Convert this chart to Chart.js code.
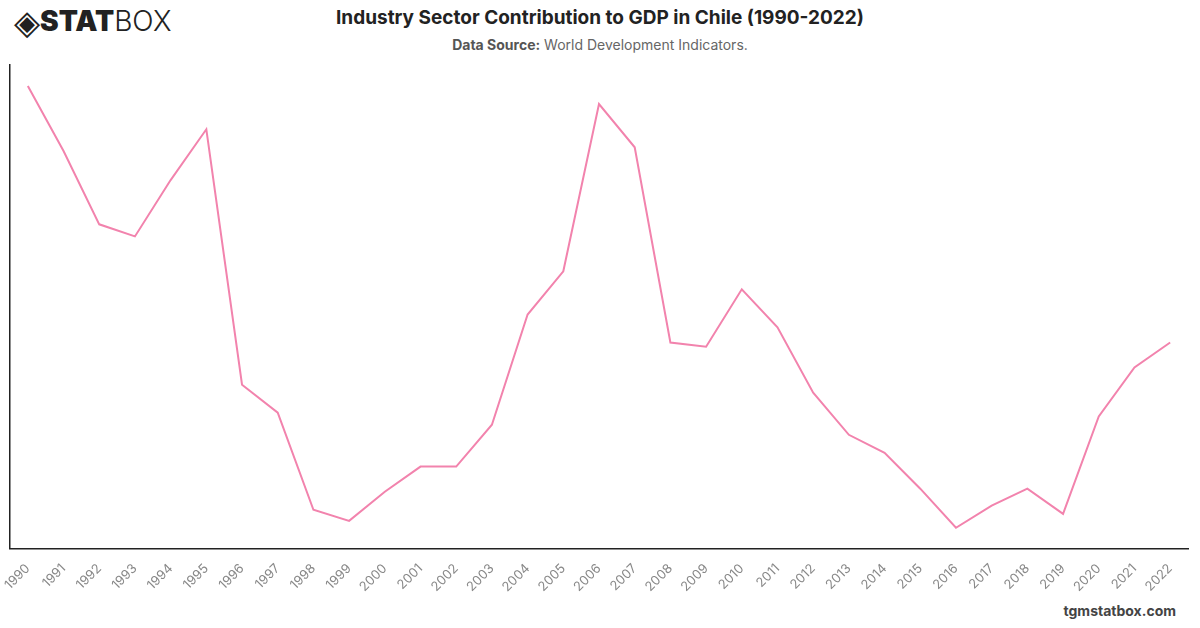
<!DOCTYPE html>
<html>
<head>
<meta charset="utf-8">
<script src="https://cdn.jsdelivr.net/npm/chart.js@4.4.0/dist/chart.umd.min.js"></script>
<style>
body{margin:0;width:1200px;height:628px;background:#fff;font-family:Inter,"Open Sans",sans-serif;position:relative;overflow:hidden}
#logo{position:absolute;left:14px;top:4px;font-size:28px;color:#222}
#logo i{font-style:normal;font-size:34px;line-height:28px;vertical-align:-3px}
#logo b{font-weight:900}
#logo span{font-weight:300}
#title{position:absolute;top:6px;left:0;width:1200px;text-align:center;font-size:19px;font-weight:700;color:#222}
#sub{position:absolute;top:36px;left:0;width:1200px;text-align:center;font-size:14px;color:#666}
#sub b{color:#555}
#foot{position:absolute;right:24px;top:602px;font-size:14px;font-weight:700;color:#444}
#wrap{position:absolute;left:0;top:60px;width:1200px;height:539px}
</style>
</head>
<body>
<div id="logo"><i>&#9672;</i><b>STAT</b><span>BOX</span></div>
<div id="title">Industry Sector Contribution to GDP in Chile (1990-2022)</div>
<div id="sub"><b>Data Source:</b> World Development Indicators.</div>
<div id="wrap"><canvas id="myChart"></canvas></div>
<div id="foot">tgmstatbox.com</div>
<script>
var years=["1990","1991","1992","1993","1994","1995","1996","1997","1998","1999","2000","2001","2002","2003","2004","2005","2006","2007","2008","2009","2010","2011","2012","2013","2014","2015","2016","2017","2018","2019","2020","2021","2022"];
var industryShare=[41.39,39.51,37.39,37.04,38.67,40.14,32.75,31.94,29.13,28.81,29.65,30.38,30.38,31.59,34.78,36.03,40.87,39.62,33.97,33.85,35.51,34.41,32.52,31.30,30.78,29.74,28.61,29.25,29.74,29.01,31.83,33.25,33.97];
var yMin=28;
var yMax=42;

new Chart("myChart",{
    type:"line",
    data:{
        labels:years,
        datasets:[{
            data:industryShare,
            borderColor:"#f283ad",
            borderWidth:2,
            pointRadius:0,
            tension:0,
            fill:false
        }]
    },
    options:{
        responsive:true,
        maintainAspectRatio:false,
        animation:false,
        layout:{padding:{top:5,left:2,right:12,bottom:0}},
        plugins:{legend:{display:false},tooltip:{enabled:false}},
        scales:{
            x:{
                offset:true,
                grid:{display:false},
                border:{display:true,color:"#222",width:1.5},
                ticks:{color:"#888",font:{family:"Inter",size:13},minRotation:45,maxRotation:45,autoSkip:false,padding:4}
            },
            y:{
                min:yMin,
                max:yMax,
                grid:{display:false},
                border:{display:true,color:"#222",width:1.5},
                ticks:{display:false}
            }
        }
    }
});
</script>
</body>
</html>
